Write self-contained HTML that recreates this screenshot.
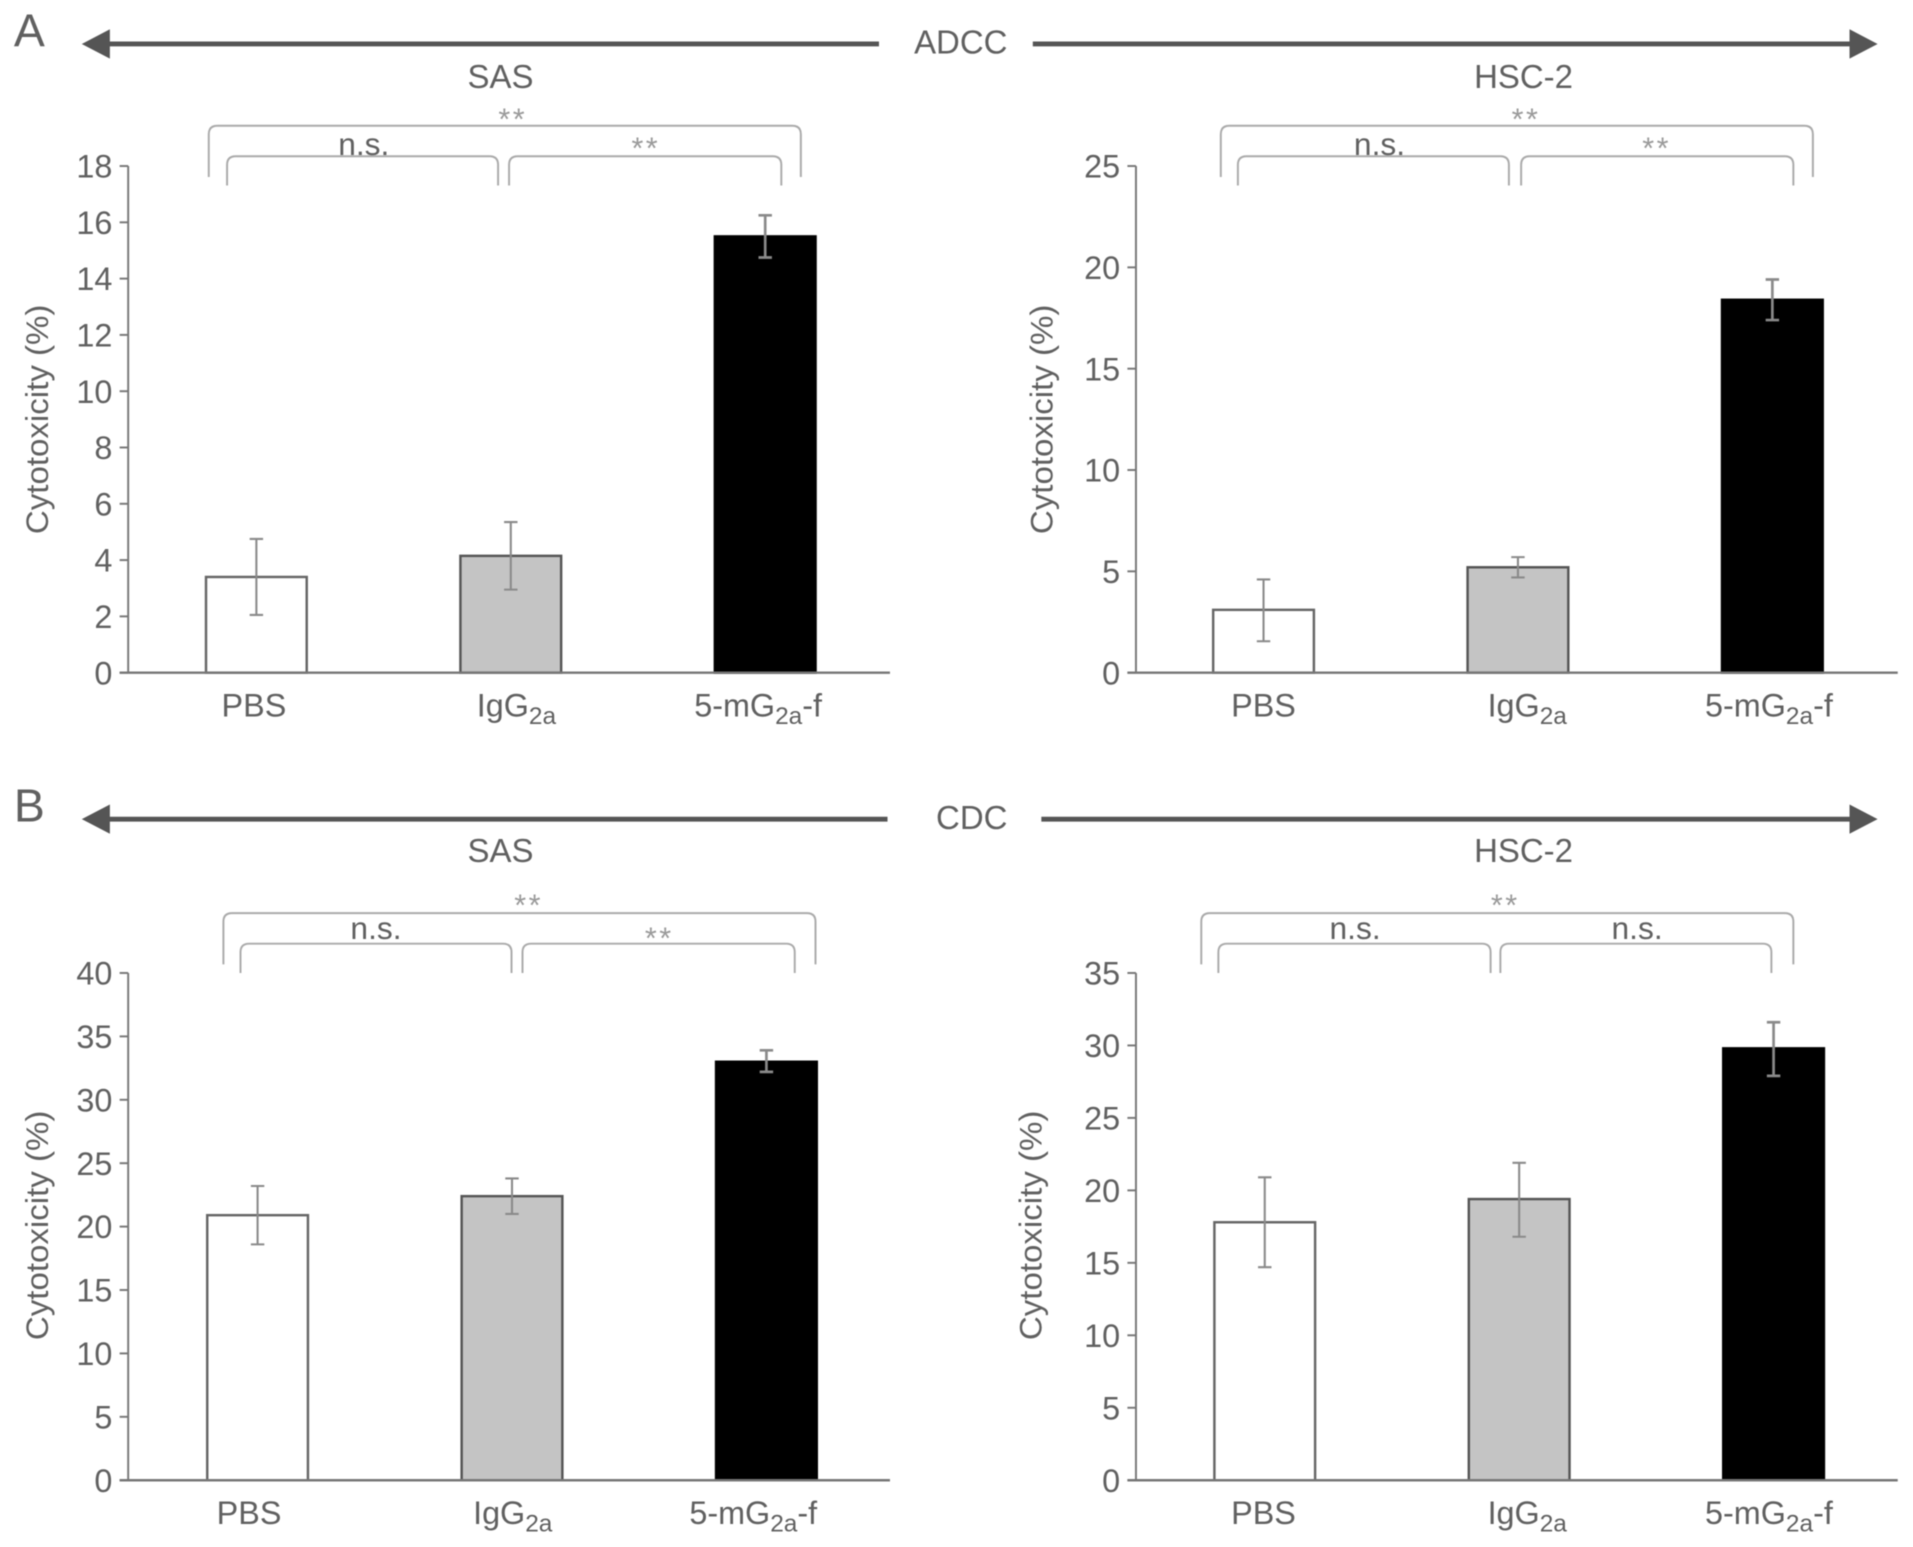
<!DOCTYPE html>
<html lang="en">
<head>
<meta charset="utf-8">
<title>ADCC and CDC cytotoxicity</title>
<style>
html,body{margin:0;padding:0;background:#fff;width:1913px;height:1547px;overflow:hidden}
svg{display:block;filter:blur(0.45px)}
text{font-family:"Liberation Sans",sans-serif;fill:#606060}
</style>
</head>
<body>
<svg id="fig" xmlns="http://www.w3.org/2000/svg" width="1913" height="1547" viewBox="0 0 1567 1267.2"></svg>
<script>
const categories = ['PBS', 'IgG', '5-mG'];

const adccSasTicks = [0, 2, 4, 6, 8, 10, 12, 14, 16, 18];
const adccSasValues = [3.4, 4.15, 15.5];
const adccSasLow = [2.05, 2.95, 14.75];
const adccSasHigh = [4.75, 5.35, 16.25];

const adccHscTicks = [0, 5, 10, 15, 20, 25];
const adccHscValues = [3.1, 5.2, 18.4];
const adccHscLow = [1.55, 4.7, 17.4];
const adccHscHigh = [4.6, 5.7, 19.4];

const cdcSasTicks = [0, 5, 10, 15, 20, 25, 30, 35, 40];
const cdcSasValues = [20.9, 22.4, 33.0];
const cdcSasLow = [18.6, 21.0, 32.2];
const cdcSasHigh = [23.2, 23.8, 33.9];

const cdcHscTicks = [0, 5, 10, 15, 20, 25, 30, 35];
const cdcHscValues = [17.8, 19.4, 29.8];
const cdcHscLow = [14.7, 16.8, 27.9];
const cdcHscHigh = [20.9, 21.9, 31.6];

const NS = 'http://www.w3.org/2000/svg';
const fig = document.getElementById('fig');

function add(parent, tag, attrs, txt) {
  const el = document.createElementNS(NS, tag);
  for (const k in attrs) el.setAttribute(k, attrs[k]);
  if (txt !== undefined) el.textContent = txt;
  parent.appendChild(el);
  return el;
}

function label(str, x, y, size, name, anchor, extra) {
  const a = { x: x, y: y, 'font-size': size, 'text-anchor': anchor || 'middle' };
  for (const k in (extra || {})) a[k] = extra[k];
  const t = add(fig, 'text', a, str);
  
  
  return t;
}

function stars(x, y, name) {
  return label('**', x, y, 25, name, 'middle', { style: 'fill:#9a9a9a;letter-spacing:2px' });
}

function arrow(x1, x2, y, tipX, baseX, name) {
  const g = add(fig, 'g', {});
  
  
  add(g, 'line', { x1: x1, x2: x2, y1: y, y2: y, stroke: '#555', 'stroke-width': 4 });
  add(g, 'polygon', { points: tipX + ',' + y + ' ' + baseX + ',' + (y - 12) + ' ' + baseX + ',' + (y + 12), fill: '#555' });
}

function bracket(x1, x2, top, bottom, name) {
  const r = 7;
  const p = add(fig, 'path', {
    d: 'M' + x1 + ' ' + bottom + ' L' + x1 + ' ' + (top + r) + ' Q' + x1 + ' ' + top + ' ' + (x1 + r) + ' ' + top +
       ' L' + (x2 - r) + ' ' + top + ' Q' + x2 + ' ' + top + ' ' + x2 + ' ' + (top + r) + ' L' + x2 + ' ' + bottom,
    fill: 'none', stroke: '#aaa', 'stroke-width': 1.6
  });
  
  
}

function catLabel(i, cx, y, panelName) {
  const t = add(fig, 'text', { x: cx, y: y, 'font-size': 26.5, 'text-anchor': 'middle' });
  
  
  add(t, 'tspan', {}, categories[i]);
  if (i > 0) {
    add(t, 'tspan', { dy: 6, 'font-size': 20 }, '2a');
  }
  if (i === 2) {
    add(t, 'tspan', { dy: -6 }, '-f');
  }
}

function panel(cfg) {
  const top = cfg.top, bottom = cfg.bottom, ax = cfg.axisX;
  const maxTick = cfg.ticks[cfg.ticks.length - 1];
  const yScale = function (v) { return bottom - (v / maxTick) * (bottom - top); };
  const xBand = function (i) { return cfg.firstCenter + i * 208.4; };
  const barW = 82.5;
  const name = cfg.name;

  const yAxis = add(fig, 'line', { x1: ax, x2: ax, y1: top, y2: bottom, stroke: '#777', 'stroke-width': 1.6 });
  
  

  cfg.ticks.forEach(function (tv) {
    const y = yScale(tv);
    const tick = add(fig, 'line', { x1: ax - 7, x2: ax, y1: y, y2: y, stroke: '#777', 'stroke-width': 1.6 });
    
    
    label(String(tv), ax - 13, y + 9.5, 26.5, name + '-y-tick-label', 'end');
  });

  const yt = add(fig, 'text', {
    x: 0, y: 0, 'font-size': 26, 'text-anchor': 'middle', textLength: 188, lengthAdjust: 'spacingAndGlyphs',
    transform: 'translate(' + cfg.titleX + ' ' + ((top + bottom) / 2 + cfg.titleDy) + ') rotate(-90)'
  }, 'Cytotoxicity (%)');
  
  

  const fills = ['#ffffff', '#c4c4c4', '#000000'];
  const strokes = ['#666', '#555', '#000'];
  cfg.values.forEach(function (v, i) {
    const cx = xBand(i);
    const yv = yScale(v);
    const bar = add(fig, 'rect', {
      x: cx - barW / 2, y: yv, width: barW, height: bottom - yv,
      fill: fills[i], stroke: strokes[i], 'stroke-width': 2
    });
    
    

    const yl = yScale(cfg.low[i]);
    const yh = yScale(cfg.high[i]);
    const err = add(fig, 'path', {
      d: 'M' + cx + ' ' + yl + ' L' + cx + ' ' + yh + ' M' + (cx - 5.5) + ' ' + yl + ' L' + (cx + 5.5) + ' ' + yl +
         ' M' + (cx - 5.5) + ' ' + yh + ' L' + (cx + 5.5) + ' ' + yh,
      fill: 'none', stroke: '#8a8a8a', 'stroke-width': i === 2 ? 2.2 : 1.7
    });
    
    

    catLabel(i, cfg.labelX[i], bottom + 36, name);
  });

  const xAxis = add(fig, 'line', { x1: ax - 7, x2: ax + 624, y1: bottom, y2: bottom, stroke: '#777', 'stroke-width': 2 });
  
  
}

panel({ name: 'adcc-sas', ticks: adccSasTicks, values: adccSasValues, low: adccSasLow, high: adccSasHigh,
  axisX: 105, top: 136, bottom: 551, firstCenter: 210, titleX: 39.5, titleDy: 0, labelX: [208, 423, 621] });
panel({ name: 'adcc-hsc2', ticks: adccHscTicks, values: adccHscValues, low: adccHscLow, high: adccHscHigh,
  axisX: 930.5, top: 136, bottom: 551, firstCenter: 1035, titleX: 862, titleDy: 0, labelX: [1035, 1251, 1449] });
panel({ name: 'cdc-sas', ticks: cdcSasTicks, values: cdcSasValues, low: cdcSasLow, high: cdcSasHigh,
  axisX: 105, top: 797, bottom: 1212.5, firstCenter: 211, titleX: 39.5, titleDy: -1, labelX: [204, 420, 617] });
panel({ name: 'cdc-hsc2', ticks: cdcHscTicks, values: cdcHscValues, low: cdcHscLow, high: cdcHscHigh,
  axisX: 930.5, top: 797, bottom: 1212.5, firstCenter: 1036, titleX: 853, titleDy: -1, labelX: [1035, 1251, 1449] });

label('A', 24, 38, 38, 'panel-label-a');
label('B', 24, 673, 38, 'panel-label-b');

arrow(85, 720, 36, 67, 90, 'adcc-left-arrow');
arrow(846, 1518, 36, 1538, 1515, 'adcc-right-arrow');
arrow(85, 727, 671, 67, 90, 'cdc-left-arrow');
arrow(853, 1518, 671, 1538, 1515, 'cdc-right-arrow');

label('ADCC', 787, 44, 27, 'adcc-title');
label('CDC', 796, 679, 27, 'cdc-title');
label('SAS', 410, 72, 27, 'adcc-sas-title');
label('HSC-2', 1248, 72, 27, 'adcc-hsc2-title');
label('SAS', 410, 706, 27, 'cdc-sas-title');
label('HSC-2', 1248, 706, 27, 'cdc-hsc2-title');

bracket(171, 656, 103, 145, 'adcc-sas-outer-bracket');
bracket(186, 408, 128, 152, 'adcc-sas-left-bracket');
bracket(417, 640, 128, 152, 'adcc-sas-right-bracket');
bracket(1000, 1485, 103, 145, 'adcc-hsc2-outer-bracket');
bracket(1014, 1236, 128, 152, 'adcc-hsc2-left-bracket');
bracket(1246, 1469, 128, 152, 'adcc-hsc2-right-bracket');
bracket(183, 668, 748, 790, 'cdc-sas-outer-bracket');
bracket(197, 419, 773, 797, 'cdc-sas-left-bracket');
bracket(428, 651, 773, 797, 'cdc-sas-right-bracket');
bracket(984, 1469, 748, 790, 'cdc-hsc2-outer-bracket');
bracket(998, 1221, 773, 797, 'cdc-hsc2-left-bracket');
bracket(1229, 1451, 773, 797, 'cdc-hsc2-right-bracket');

stars(420, 106, 'adcc-sas-outer-significance');
label('n.s.', 298, 127, 26, 'adcc-sas-left-significance');
stars(529, 130, 'adcc-sas-right-significance');
stars(1250, 106, 'adcc-hsc2-outer-significance');
label('n.s.', 1130, 127, 26, 'adcc-hsc2-left-significance');
stars(1357, 130, 'adcc-hsc2-right-significance');
stars(433, 750, 'cdc-sas-outer-significance');
label('n.s.', 308, 769, 26, 'cdc-sas-left-significance');
stars(540, 777, 'cdc-sas-right-significance');
stars(1233, 750, 'cdc-hsc2-outer-significance');
label('n.s.', 1110, 769, 26, 'cdc-hsc2-left-significance');
label('n.s.', 1341, 769, 26, 'cdc-hsc2-right-significance');
</script>
</body>
</html>
